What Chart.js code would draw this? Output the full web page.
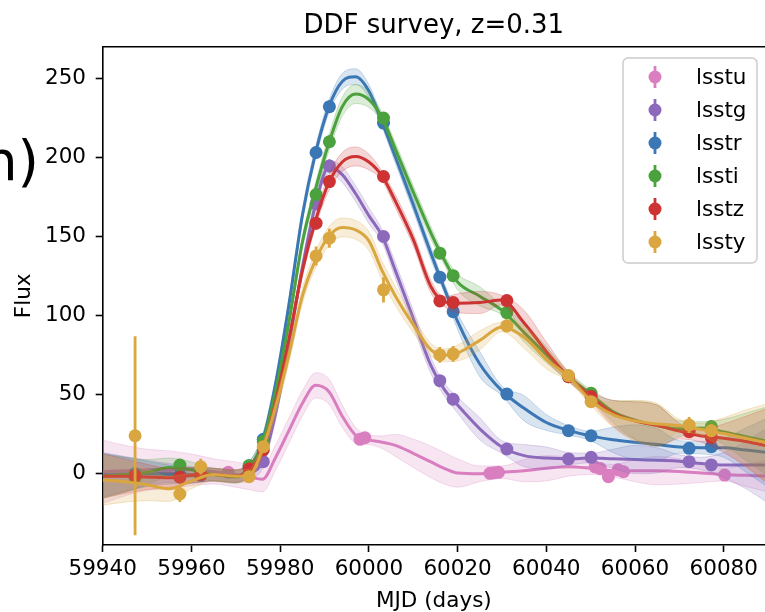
<!DOCTYPE html>
<html>
<head>
<meta charset="utf-8">
<title>DDF survey light curve</title>
<script src="https://cdn.jsdelivr.net/npm/chart.js@4.4.0/dist/chart.umd.min.js"></script>
<style>
  html, body { margin: 0; padding: 0; background: #fff; }
  #wrap { width: 765px; height: 612px; overflow: hidden; }
</style>
</head>
<body>
<div id="wrap"><canvas id="lc" width="765" height="612"></canvas></div>
<script>
// MJD grid the GP mean / sigma are sampled on
const gridMjd = [59940, 59945, 59950, 59955, 59960, 59965, 59970, 59973, 59976, 59979, 59982, 59985,
  59988, 59991, 59994, 59997, 60000, 60003, 60006, 60010, 60014, 60017, 60020, 60025, 60030, 60035,
  60040, 60045, 60050, 60055, 60060, 60065, 60070, 60075, 60080, 60085, 60090];

// GP mean flux per filter
const fitU = [0.8, 1.5, 2, 2, 2, 1, -1, -2.5, -4, 10, 27, 44, 55.5, 51.5, 36, 24, 21, 19.5, 17.5, 12.5, 7, 3, 0,
  -0.5, 0.5, 1.5, 3, 4, 3, 1.5, 1.5, 1.5, 1, 0, -1, -1.5, -2];
const fitG = [-1, -0.5, 0, 0, -1, -1, -2, 0, 7, 38, 82, 130, 170.5, 194, 189, 177, 163, 150, 128, 98, 68, 53, 43,
  28, 16.5, 11, 9.5, 9, 9.5, 9, 8.5, 8, 7.5, 6, 5, 5, 5];
const fitR = [-1.5, -1, -0.5, -1, -1.5, -1, -2, 3, 20, 57, 107, 163, 203, 232, 248, 251, 242, 222, 200, 170, 139,
  117, 96, 69, 52, 41, 32, 27, 23.5, 21, 19.5, 18, 16.5, 16, 16, 14.5, 13];
const fitI = [-2, -1, 0.5, 3.5, 2, -1, -2.5, 3, 19, 52, 96, 146, 180, 209, 232, 240, 236.5, 225, 205, 178, 152,
  135, 121, 112, 103, 89, 75, 61, 50, 39, 33.5, 30, 28, 28.5, 26, 23, 20];
const fitZ = [-2, -2, -2.5, -3, -1.5, -1, -2, 2, 14, 45, 85, 128, 160, 184, 197, 200.5, 197, 188, 172, 148, 118,
  108.5, 107.5, 108, 109.5, 95, 77, 61, 48.5, 38, 33, 30, 26.5, 23.5, 22, 20, 17];
const fitY = [-4.4, -5.5, -7.5, -10, -5, -1, -2, -1.5, 15, 42, 75, 112, 135, 150, 155.5, 154, 147, 128, 112, 94,
  78, 74.5, 76, 84, 92.5, 86, 72, 61, 46, 37, 33, 31, 30, 27.5, 25, 22, 19];

// GP 1-sigma half width per filter
const sigU = [20, 16, 13, 12, 10, 8, 8, 8, 8, 8, 8, 8, 8, 8, 7, 5, 3, 4, 7, 9, 10, 10, 9, 5, 4, 7, 8, 6, 4, 4,
  7, 9, 8, 6, 4, 7, 10];
const sigG = [14, 11, 8, 6, 5, 4, 4, 4, 4, 4, 4, 4, 4, 4, 5, 5, 5, 4, 5, 5, 5, 4, 5, 7, 4, 7, 7, 4, 3, 6,
  9, 8, 4, 4, 8, 15, 24];
const sigR = [14, 11, 8, 6, 5, 4, 4, 4, 4, 4, 4, 4, 4, 4, 5, 5, 4, 3, 4, 4, 4, 3, 5, 8, 3, 8, 5, 3, 3, 8,
  11, 10, 4, 4, 6, 14, 22];
const sigI = [14, 11, 8, 6, 5, 4, 4, 4, 4, 4, 4, 4, 4, 5, 6, 6, 5, 3, 4, 4, 4, 3, 5, 6, 3, 6, 5, 3, 3, 7,
  12, 13, 5, 4, 8, 15, 22];
const sigZ = [14, 11, 8, 6, 5, 4, 4, 4, 4, 4, 4, 4, 4, 5, 6, 6, 5, 3, 4, 4, 4, 3, 6, 7, 3, 8, 6, 3, 3, 8,
  12, 13, 5, 4, 9, 16, 24];
const sigY = [16, 13, 10, 8, 5, 4, 4, 4, 4, 5, 5, 5, 5, 6, 6, 6, 6, 6, 6, 5, 4, 4, 5, 6, 3, 7, 6, 3, 3, 8,
  13, 13, 4, 4, 10, 18, 25];

// observed photometry
const obsMjdU = [59968.3, 59998.0, 59999.1, 60027.3, 60028.2, 60029.2, 60051.0, 60052.2, 60054.0, 60056.2, 60057.4, 60080.2];
const obsFluxU = [0.4, 21.3, 22.4, -0.2, 0.1, 0.4, 3.8, 2.8, -2.3, 2.0, 0.8, -1.3];
const obsErrU = [2, 3, 3, 2, 2, 2, 2, 2, 3, 2, 2, 2];

const obsMjdG = [59947.3, 59957.4, 59962.1, 59976.2, 59988.1, 59991.1, 60003.3, 60016.0, 60019.0, 60031.1, 60045.0, 60050.1, 60072.2, 60077.2];
const obsFluxG = [-0.5, -2, -1.5, 7.2, 170.5, 194.5, 149.8, 58.5, 46.7, 15.2, 8.9, 9.9, 7.2, 5.1];
const obsErrG = [3, 3, 3, 2, 4, 4, 3, 2, 2, 2, 2, 2, 2, 2];

// r, i, z, y share the same epochs
const obsMjd = [59947.3, 59957.4, 59962.1, 59973.0, 59976.2, 59988.1, 59991.1, 60003.3, 60016.0, 60019.0, 60031.1, 60045.0, 60050.1, 60072.2, 60077.2];
const obsFluxR = [-0.5, -1.5, -1.5, 4.6, 21.3, 203, 232, 221.6, 124, 102.2, 50, 26.8, 23.6, 15.6, 16.7];
const obsFluxI = [-3, 5, -1, 4.6, 20, 176.4, 209.8, 224.8, 139.2, 125, 101.6, 61, 50.5, 27.5, 29.4];
const obsFluxZ = [-1.7, -2.7, -1, 2.5, 14.6, 158.2, 184.6, 187.8, 109, 108, 109.2, 61, 48.4, 26.2, 22.6];
const obsFluxY = [23.6, -13.3, 4, -2.3, 16.7, 137.5, 148.7, 116, 74.8, 75.4, 93.2, 61.7, 45.2, 30.4, 26.8];
const obsErrR = [3, 3, 3, 2, 2, 4, 4, 3, 3, 3, 2, 2, 2, 2, 2];
const obsErrI = [3, 3, 3, 2, 2, 4, 4, 3, 3, 3, 2, 2, 2, 2, 2];
const obsErrZ = [3, 3, 3, 2, 2, 4, 4, 3, 3, 3, 2, 2, 2, 2, 2];
const obsErrY = [63, 5, 5, 3, 3, 6, 6, 8, 5, 5, 4, 4, 3, 5, 4];

const bandNames = ['lsstu', 'lsstg', 'lsstr', 'lssti', 'lsstz', 'lssty'];
const bandColors = ['#d97ebf', '#8d69bc', '#3a77b4', '#4ba13d', '#cc3332', '#d9a640'];

const FONT = 'DejaVu Sans';

const bands = [
  { fit: fitU, sig: sigU, x: obsMjdU, y: obsFluxU, e: obsErrU },
  { fit: fitG, sig: sigG, x: obsMjdG, y: obsFluxG, e: obsErrG },
  { fit: fitR, sig: sigR, x: obsMjd, y: obsFluxR, e: obsErrR },
  { fit: fitI, sig: sigI, x: obsMjd, y: obsFluxI, e: obsErrI },
  { fit: fitZ, sig: sigZ, x: obsMjd, y: obsFluxZ, e: obsErrZ },
  { fit: fitY, sig: sigY, x: obsMjd, y: obsFluxY, e: obsErrY }
];

function rgba(hex, a) {
  const n = parseInt(hex.slice(1), 16);
  return 'rgba(' + (n >> 16) + ',' + ((n >> 8) & 255) + ',' + (n & 255) + ',' + a + ')';
}

// build datasets: band (lower+upper), mean line, points; later filters sit on top
const datasets = [];
bands.forEach(function (b, k) {
  const col = bandColors[k];
  const base = (bands.length - 1 - k) * 3;
  const lower = gridMjd.map((m, i) => ({ x: m, y: b.fit[i] - b.sig[i] }));
  const upper = gridMjd.map((m, i) => ({ x: m, y: b.fit[i] + b.sig[i] }));
  datasets.push({
    data: lower, borderColor: rgba(col, 0.25), borderWidth: 1, pointRadius: 0,
    cubicInterpolationMode: 'monotone', fill: false, order: base + 2
  });
  datasets.push({
    data: upper, borderColor: rgba(col, 0.25), borderWidth: 1, pointRadius: 0,
    backgroundColor: rgba(col, 0.2), cubicInterpolationMode: 'monotone', fill: '-1', order: base + 2
  });
  datasets.push({
    label: bandNames[k],
    data: gridMjd.map((m, i) => ({ x: m, y: b.fit[i] })),
    borderColor: col, borderWidth: 3, pointRadius: 0,
    cubicInterpolationMode: 'monotone', fill: false, order: base + 1
  });
  datasets.push({
    data: b.x.map((m, i) => ({ x: m, y: b.y[i] })),
    errors: b.e,
    showLine: false, pointRadius: 6.5, pointHoverRadius: 6.5, pointBorderWidth: 0,
    pointBackgroundColor: col, borderColor: col, fill: false, order: base
  });
});

// vertical error bars under each marker
const errorBars = {
  id: 'errorBars',
  beforeDatasetDraw(chart, args) {
    const ds = chart.data.datasets[args.index];
    if (!ds.errors) return;
    const { ctx, chartArea } = chart;
    const xs = chart.scales.x, ys = chart.scales.y;
    ctx.save();
    ctx.beginPath();
    ctx.rect(chartArea.left, chartArea.top, chartArea.right - chartArea.left, chartArea.bottom - chartArea.top);
    ctx.clip();
    ctx.strokeStyle = ds.pointBackgroundColor;
    ctx.lineWidth = 2.8;
    ds.data.forEach(function (p, i) {
      const px = xs.getPixelForValue(p.x);
      ctx.beginPath();
      ctx.moveTo(px, ys.getPixelForValue(p.y - ds.errors[i]));
      ctx.lineTo(px, ys.getPixelForValue(p.y + ds.errors[i]));
      ctx.stroke();
    });
    ctx.restore();
  }
};

// title over the axes, top spine, legend box and the panel letter
const frame = {
  id: 'frame',
  afterDraw(chart) {
    const { ctx, chartArea } = chart;
    ctx.save();
    ctx.strokeStyle = '#000';
    ctx.lineWidth = 1.6;
    ctx.beginPath();
    ctx.moveTo(chartArea.left, chartArea.top);
    ctx.lineTo(chartArea.right, chartArea.top);
    ctx.stroke();

    ctx.fillStyle = '#000';
    ctx.font = '26px "' + FONT + '"';
    ctx.textAlign = 'center';
    ctx.textBaseline = 'alphabetic';
    ctx.fillText('DDF survey, z=0.31', (chartArea.left + chartArea.right) / 2, 33.3);

    // legend
    const lx = 623, ly = 58, lw = 134, lh = 205;
    ctx.beginPath();
    ctx.roundRect(lx, ly, lw, lh, 5);
    ctx.fillStyle = 'rgba(255,255,255,0.8)';
    ctx.fill();
    ctx.strokeStyle = '#cccccc';
    ctx.lineWidth = 1.5;
    ctx.stroke();
    ctx.font = '21.5px "' + FONT + '"';
    ctx.textBaseline = 'middle';
    ctx.textAlign = 'left';
    bandNames.forEach(function (name, k) {
      const cy = ly + 19 + k * 33;
      ctx.strokeStyle = bandColors[k];
      ctx.lineWidth = 2.8;
      ctx.beginPath();
      ctx.moveTo(655, cy - 11);
      ctx.lineTo(655, cy + 11);
      ctx.stroke();
      ctx.fillStyle = bandColors[k];
      ctx.beginPath();
      ctx.arc(655, cy, 6.5, 0, Math.PI * 2);
      ctx.fill();
      ctx.fillStyle = '#000';
      ctx.fillText(name, 696, cy + 1);
    });

    ctx.font = '55px "' + FONT + '"';
    ctx.textAlign = 'right';
    ctx.textBaseline = 'alphabetic';
    ctx.fillStyle = '#000';
    ctx.fillText('(n)', 39, 180);
    ctx.restore();
  }
};

const tickFont = { family: FONT, size: 21.5 };

new Chart(document.getElementById('lc'), {
  type: 'line',
  data: { datasets: datasets },
  plugins: [errorBars, frame],
  options: {
    responsive: false,
    animation: false,
    devicePixelRatio: 1,
    layout: { padding: { top: 46.7, left: 0, right: 0, bottom: 0 }, autoPadding: false },
    plugins: {
      legend: { display: false },
      tooltip: { enabled: false },
      title: { display: false }
    },
    scales: {
      x: {
        type: 'linear', min: 59940, max: 60089.3,
        ticks: {
          stepSize: 20, includeBounds: false, autoSkip: false, maxRotation: 0,
          color: '#000', font: tickFont, padding: 5,
          callback: v => String(v)
        },
        grid: { drawOnChartArea: false, drawTicks: true, tickLength: 7, tickWidth: 1.6, tickColor: '#000' },
        border: { display: true, color: '#000', width: 1.6 },
        title: { display: true, text: 'MJD (days)', color: '#000', font: tickFont, padding: { top: 0, bottom: -2.5 } },
        afterFit: s => { s.height = 67; s.paddingLeft = 0; s.paddingRight = 0; }
      },
      y: {
        type: 'linear', min: -45.6, max: 270,
        ticks: {
          stepSize: 50, includeBounds: false, color: '#000', font: tickFont, padding: 9.7,
          callback: v => String(v)
        },
        grid: { drawOnChartArea: false, drawTicks: true, tickLength: 7, tickWidth: 1.6, tickColor: '#000' },
        border: { display: true, color: '#000', width: 1.6 },
        title: { display: true, text: 'Flux', color: '#000', font: tickFont, padding: { top: 11.4, bottom: 0 } },
        afterFit: s => { s.width = 102.7; s.paddingTop = 0; s.paddingBottom = 0; }
      }
    }
  }
});
</script>
</body>
</html>
